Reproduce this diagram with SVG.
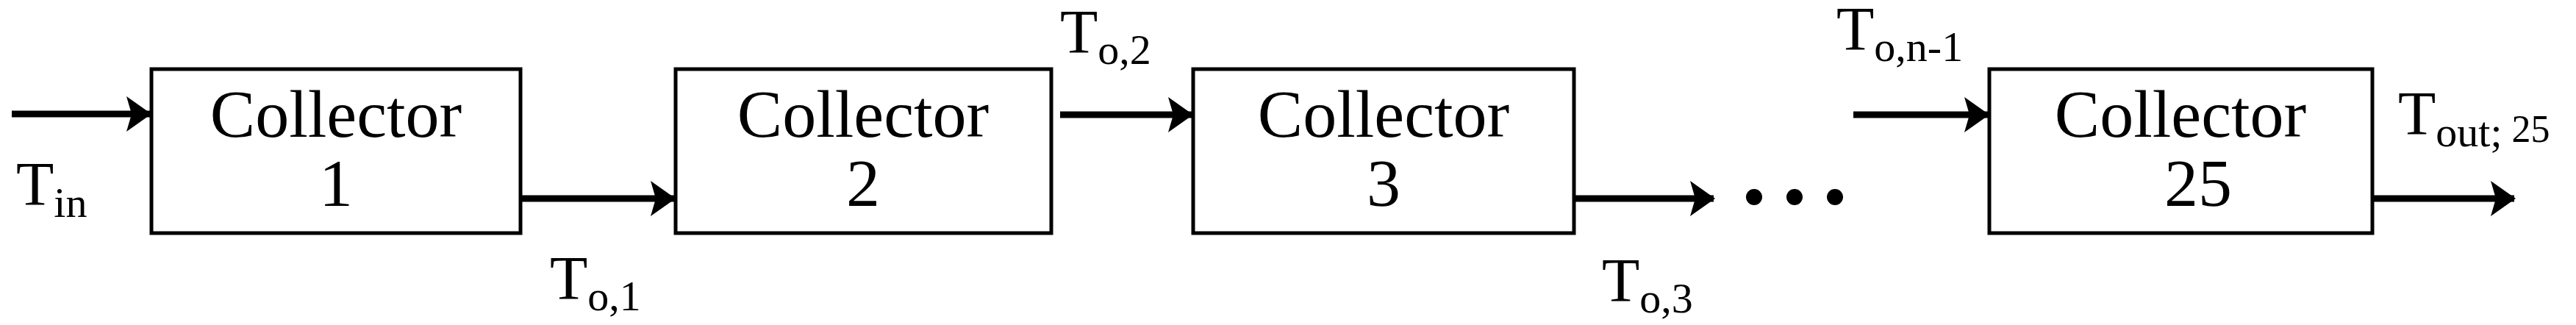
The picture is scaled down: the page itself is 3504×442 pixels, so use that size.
<svg xmlns="http://www.w3.org/2000/svg" width="3504" height="442" viewBox="0 0 3504 442">
<style>
.box{fill:#fff;stroke:#000;stroke-width:5}
.t{font-family:"Liberation Serif",serif;fill:#000}
.c{font-size:92px;text-anchor:middle}
.l{font-size:84px}
.s{font-size:58px}
.w{stroke:#000;stroke-width:9;fill:none;marker-end:url(#a)}
</style>
<defs><marker id="a" markerUnits="userSpaceOnUse" markerWidth="34" markerHeight="48" refX="32" refY="24" orient="auto"><path d="M0,0 L34,24 L0,48 L7,24 Z" fill="#000"/></marker></defs>
<rect width="3504" height="442" fill="#fff"/>
<g id="n1"><rect class="box" x="206" y="94" width="502" height="223"/><text class="t c" x="457" y="186">Collector</text><text class="t c" x="457" y="280">1</text></g>
<g id="n2"><rect class="box" x="919" y="94" width="511" height="223"/><text class="t c" x="1174" y="186">Collector</text><text class="t c" x="1174" y="280">2</text></g>
<g id="n3"><rect class="box" x="1623" y="94" width="518" height="223"/><text class="t c" x="1882" y="186">Collector</text><text class="t c" x="1882" y="280">3</text></g>
<g id="n4"><rect class="box" x="2706" y="94" width="521" height="223"/><text class="t c" x="2966" y="186">Collector</text><text class="t c" x="2990" y="280">25</text></g>
<g id="connectors">
<line class="w" x1="16" y1="155" x2="204" y2="155"/>
<line class="w" x1="710" y1="270" x2="917" y2="270"/>
<line class="w" x1="1442" y1="156" x2="1621" y2="156"/>
<line class="w" x1="2143" y1="270" x2="2331" y2="270"/>
<line class="w" x1="2521" y1="156" x2="2704" y2="156"/>
<line class="w" x1="3229" y1="270" x2="3420" y2="270"/>
<circle cx="2386" cy="268" r="11"/><circle cx="2441" cy="268" r="11"/><circle cx="2496" cy="268" r="11"/>
</g>
<text class="t l" x="22" y="279">T<tspan class="s" dy="16">in</tspan></text>
<text class="t l" x="748" y="407">T<tspan class="s" dy="15">o,1</tspan></text>
<text class="t l" x="1442" y="72">T<tspan class="s" dy="15">o,2</tspan></text>
<text class="t l" x="2179" y="410">T<tspan class="s" dy="15">o,3</tspan></text>
<text class="t l" x="2498" y="68">T<tspan class="s" dy="15">o,n-1</tspan></text>
<text class="t l" x="3262" y="183">T<tspan class="s" dy="16">out;</tspan><tspan font-size="52" dy="-6"> 25</tspan></text>
</svg>
